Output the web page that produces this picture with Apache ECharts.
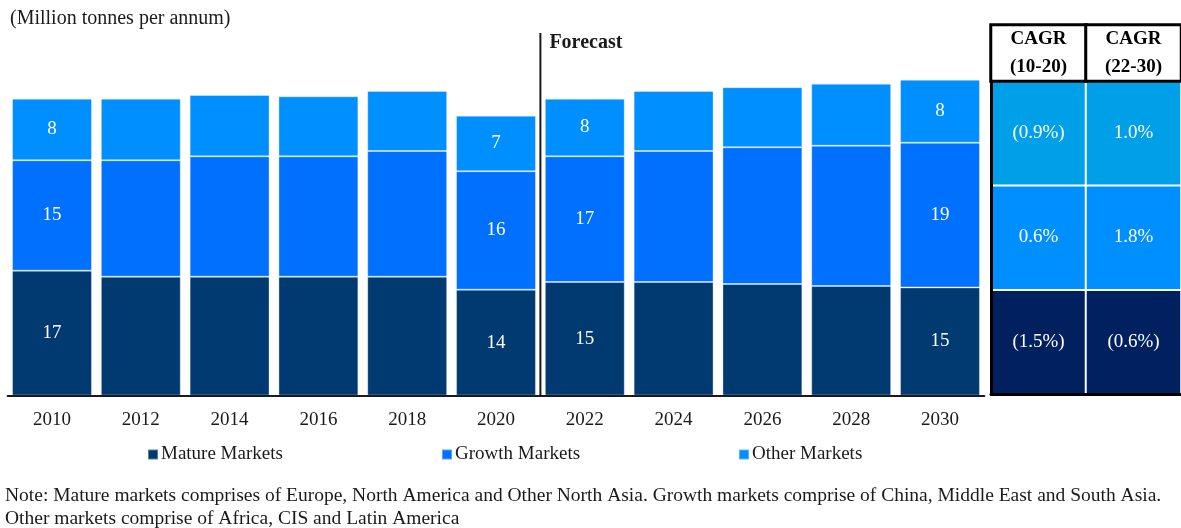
<!DOCTYPE html>
<html>
<head>
<meta charset="utf-8">
<script src="https://cdn.jsdelivr.net/npm/echarts@6/dist/echarts.min.js"></script>
<style>
html,body{margin:0;padding:0;background:#fff;}
#chart{width:1181px;height:528px;}
</style>
</head>
<body>
<div id="chart"></div>
<script>
// ---- data ----
const categories = ['2010','2012','2014','2016','2018','2020','2022','2024','2026','2028','2030'];
const matureMarkets = [16.80, 15.99, 15.99, 15.99, 15.99, 14.24, 15.28, 15.28, 15.01, 14.74, 14.55];
const growthMarkets = [14.86, 15.67, 16.20, 16.20, 16.92, 15.94, 16.92, 17.63, 18.40, 18.88, 19.47];
const otherMarkets  = [8.29, 8.29, 8.25, 8.08, 8.08, 7.48, 7.75, 8.08, 8.08, 8.34, 8.48];
const labeledYears = ['2010', '2020', '2022', '2030'];
const seriesNames = ['Mature Markets', 'Growth Markets', 'Other Markets'];

const cagrPeriods = ['CAGR\n(10-20)', 'CAGR\n(22-30)'];
const cagrMature = [-1.5, -0.6];
const cagrGrowth = [0.6, 1.8];
const cagrOther  = [-0.9, 1.0];

const unitText = '(Million tonnes per annum)';
const forecastText = 'Forecast';
const noteText = 'Note: Mature markets comprises of Europe, North America and Other North Asia. Growth markets comprise of China, Middle East and South Asia.\nOther markets comprise of Africa, CIS and Latin America';

// ---- styles ----
const FONT = '"Liberation Serif", "Times New Roman", serif';
const colMature = '#003A70', colGrowth = '#0070FF', colOther = '#008FFF';
const cellColors = ['#00205F', '#008FFF', '#00A0E8']; // mature, growth, other rows

const chart = echarts.init(document.getElementById('chart'), null, {renderer: 'canvas'});

function barLabel() {
  return {
    show: true, position: 'inside', color: '#fff', fontFamily: FONT, fontSize: 19,
    formatter: p => labeledYears.includes(p.name) ? String(Math.round(p.value)) : ''
  };
}
function fmtCagr(v) {
  const s = Math.abs(v).toFixed(1) + '%';
  return v < 0 ? '(' + s + ')' : s;
}
const cagrRows = [cagrMature, cagrGrowth, cagrOther];
const bodyData = [];
cagrRows.forEach((row, r) => row.forEach((v, c) => {
  bodyData.push({value: [c, r, v], itemStyle: {color: cellColors[r]}});
}));

const barStyle = c => ({color: c, borderColor: 'rgba(255,255,255,0.35)', borderWidth: 1});

chart.setOption({
  animation: false,
  textStyle: {fontFamily: FONT},
  title: [
    {text: unitText, left: 10, top: 9, padding: 0,
     textStyle: {fontFamily: FONT, fontSize: 20, fontWeight: 'normal', color: '#1a1a1a'}},
    {text: noteText, left: 5, top: 484, padding: 0,
     textStyle: {fontFamily: FONT, fontSize: 19.5, fontWeight: 'normal', color: '#1a1a1a', lineHeight: 23}}
  ],
  legend: seriesNames.map((n, i) => ({
    data: [n], left: [147, 441, 738][i], top: 445, padding: 0, icon: 'rect', itemWidth: 10, itemHeight: 10,
    textStyle: {fontFamily: FONT, fontSize: 19, color: '#1a1a1a', padding: [0, 0, 0, -2]},
    selectedMode: false
  })),
  grid: [
    {left: 7.6, right: 196.6, top: 24, bottom: 132.5},
    {left: 991, right: -3, top: 81, bottom: 134},
    {left: 991, right: -3, top: 25, height: 56}
  ],
  xAxis: [
    {type: 'category', data: categories, gridIndex: 0,
     axisLine: {lineStyle: {color: '#1a1a1a', width: 2}}, axisTick: {show: false},
     axisLabel: {fontFamily: FONT, fontSize: 19, color: '#1a1a1a', margin: 15}, z: 5},
    {type: 'category', data: cagrPeriods, gridIndex: 1, position: 'bottom',
     axisLine: {lineStyle: {color: '#000', width: 3}}, axisTick: {show: false}, axisLabel: {show: false}, z: 10},
    {type: 'category', data: cagrPeriods, gridIndex: 2, show: false}
  ],
  yAxis: [
    {type: 'value', min: 0, max: 50, show: false, gridIndex: 0},
    {type: 'category', data: seriesNames, gridIndex: 1,
     axisLine: {lineStyle: {color: '#000', width: 3}}, axisTick: {show: false}, axisLabel: {show: false}, z: 10},
    {type: 'category', data: ['header'], gridIndex: 2, show: false}
  ],
  series: [
    {name: 'Mature Markets', type: 'bar', stack: 'total', data: matureMarkets, barCategoryGap: '10%',
     itemStyle: barStyle(colMature), label: barLabel(), xAxisIndex: 0, yAxisIndex: 0},
    {name: 'Growth Markets', type: 'bar', stack: 'total', data: growthMarkets, barCategoryGap: '10%',
     itemStyle: barStyle(colGrowth), label: barLabel(), xAxisIndex: 0, yAxisIndex: 0},
    {name: 'Other Markets', type: 'bar', stack: 'total', data: otherMarkets, barCategoryGap: '10%',
     itemStyle: barStyle(colOther), label: barLabel(), xAxisIndex: 0, yAxisIndex: 0},
    {type: 'heatmap', xAxisIndex: 1, yAxisIndex: 1, data: bodyData,
     itemStyle: {borderColor: '#fff', borderWidth: 2},
     label: {show: true, color: '#fff', fontFamily: FONT, fontSize: 19, formatter: p => fmtCagr(p.value[2])},
     emphasis: {disabled: true}},
    {type: 'heatmap', xAxisIndex: 2, yAxisIndex: 2,
     data: cagrPeriods.map((p, i) => ({value: [i, 0, 0], itemStyle: {color: '#fff'}})),
     itemStyle: {borderColor: '#000', borderWidth: 3},
     label: {show: true, color: '#000', fontFamily: FONT, fontSize: 19, fontWeight: 'bold', lineHeight: 28,
             formatter: p => cagrPeriods[p.value[0]]},
     emphasis: {disabled: true}}
  ]
});

// forecast divider, placed from the category axis
const xa = chart.convertToPixel({xAxisIndex: 0}, categories[5]);
const xb = chart.convertToPixel({xAxisIndex: 0}, categories[6]);
const xDiv = (xa + xb) / 2;
const yBase = chart.convertToPixel({yAxisIndex: 0}, 0);
chart.setOption({
  graphic: [
    {type: 'line', shape: {x1: xDiv, y1: 33, x2: xDiv, y2: yBase}, style: {stroke: '#1a1a1a', lineWidth: 2}, z: 20},
    {type: 'text', x: xDiv + 9, y: 43, style: {text: forecastText, font: 'bold 20px ' + FONT, fill: '#1a1a1a', textVerticalAlign: 'middle'}, z: 20}
  ]
});
</script>
</body>
</html>
